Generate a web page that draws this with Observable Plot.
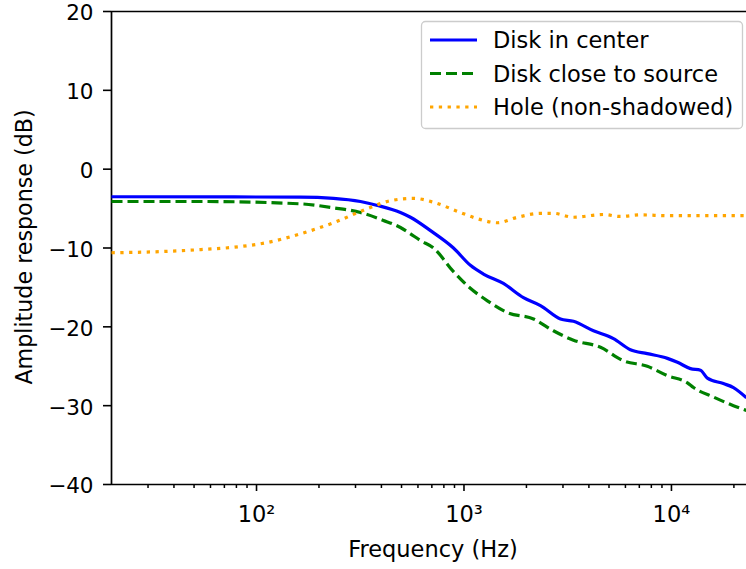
<!DOCTYPE html>
<html><head><meta charset="utf-8">
<script src="https://cdn.jsdelivr.net/npm/d3@7"></script>
<script src="https://cdn.jsdelivr.net/npm/@observablehq/plot@0.6"></script>
<style>body{margin:0;background:#fff}</style>
</head><body><div id="chart"></div>
<script>
const seriesNames = ["Disk in center", "Disk close to source", "Hole (non-shadowed)"];
const seriesColors = ["blue", "green", "orange"];
const seriesDash = [null, "11,5", "3.3,5.5"];

const freqCenter = [20, 163, 235, 317, 383, 494, 552, 690, 890, 1074, 1241, 1549, 1935, 2337, 2918, 3371, 4209, 5253, 6339, 7651, 9563, 10690, 12350, 13800, 14900, 17800, 19900, 23000];
const dbCenter = [-3.5, -3.55, -3.7, -4.1, -4.6, -5.5, -6.1, -7.8, -10.0, -12.2, -13.3, -14.5, -16.3, -17.3, -19.0, -19.3, -20.5, -21.5, -22.9, -23.4, -24.0, -24.5, -25.3, -25.5, -26.5, -27.2, -27.7, -29.0];

const freqSource = [20, 54, 163, 235, 317, 409, 494, 552, 617, 713, 890, 1040, 1297, 1621, 2163, 2698, 3371, 4550, 5870, 7651, 9563, 11940, 12770, 15930, 19900, 22970];
const dbSource = [-4.1, -4.1, -4.4, -4.9, -5.5, -6.5, -7.4, -8.2, -9.05, -10.0, -13.0, -14.8, -16.7, -18.2, -19.0, -20.5, -21.7, -22.6, -24.3, -25.0, -26.2, -27.1, -27.7, -28.9, -30.0, -30.6];

const freqHole = [20, 31, 54, 78, 113, 163, 235, 343, 442, 571, 713, 961, 1203, 1449, 1810, 2337, 2698, 3371, 4700, 5675, 7090, 9563, 23000];
const dbHole = [-10.6, -10.5, -10.2, -9.9, -9.3, -8.2, -6.8, -5.0, -4.0, -3.7, -4.2, -5.5, -6.4, -6.8, -6.1, -5.6, -5.6, -6.1, -5.75, -6.0, -5.8, -5.9, -5.9];

const xMajorTicks = [100, 1000, 10000];
const xMajorLabels = ["10²", "10³", "10⁴"];
const xMinorTicks = [30,40,50,60,70,80,90,200,300,400,500,600,700,800,900,2000,3000,4000,5000,6000,7000,8000,9000,20000];
const yTicks = [-40, -30, -20, -10, 0, 10, 20];
const xLabel = "Frequency (Hz)";
const yLabel = "Amplitude response (dB)";

const allFreq = [freqCenter, freqSource, freqHole];
const allDb = [dbCenter, dbSource, dbHole];
const rows = [];
allFreq.forEach((fs, s) => fs.forEach((f, i) => rows.push({series: seriesNames[s], f, db: allDb[s][i]})));

const FS = 22.5;
const W = 746, H = 569;
const plot = Plot.plot({
  width: W, height: H,
  marginLeft: 111, marginTop: 11, marginBottom: 85, marginRight: 0,
  style: {fontFamily: "DejaVu Sans", fontSize: FS + "px", color: "black", background: "white"},
  x: {type: "log", domain: [20, 23000]},
  y: {domain: [-40, 20]},
  marks: [
    Plot.axisX({ticks: xMinorTicks, tickSize: 4, strokeWidth: 1.5, text: null, label: null}),
    Plot.axisX({ticks: xMajorTicks, tickSize: 7, strokeWidth: 1.6, tickPadding: 15,
      tickFormat: d => xMajorLabels[xMajorTicks.indexOf(d)], label: null}),
    Plot.axisY({ticks: yTicks, tickSize: 8, strokeWidth: 1.6, text: null, label: null}),
    Plot.axisY({ticks: yTicks, tickSize: 0, tickPadding: 18, dy: 2, fontSize: 21.5, label: null}),
    Plot.ruleX([20], {stroke: "black", strokeWidth: 1.7}),
    Plot.ruleY([20, -40], {stroke: "black", strokeWidth: 1.7}),
    ...seriesNames.map((name, s) => Plot.line(rows.filter(r => r.series === name), {
      x: "f", y: "db", stroke: seriesColors[s], strokeWidth: 3.2,
      strokeDasharray: seriesDash[s] || undefined, strokeLinecap: "butt",
      curve: "monotone-x"
    }))
  ]
});

const svg = d3.select(plot);
svg.append("text").attr("x", 433).attr("y", 557).attr("text-anchor", "middle")
  .attr("fill", "black").attr("font-size", FS).text(xLabel);
svg.append("text").attr("transform", "translate(32,247) rotate(-90)").attr("text-anchor", "middle")
  .attr("fill", "black").attr("font-size", 22.2).text(yLabel);

const lg = svg.append("g").attr("text-anchor", "start");
lg.append("rect").attr("x", 421.5).attr("y", 21.5).attr("width", 321).attr("height", 107)
  .attr("rx", 4).attr("fill", "white").attr("fill-opacity", 0.8).attr("stroke", "#cccccc").attr("stroke-width", 1.3);
seriesNames.forEach((name, s) => {
  const yy = 40 + s * 33.5;
  lg.append("line").attr("x1", 430).attr("x2", 477).attr("y1", yy).attr("y2", yy)
    .attr("stroke", seriesColors[s]).attr("stroke-width", 3.2)
    .attr("stroke-dasharray", seriesDash[s]);
  lg.append("text").attr("x", 493).attr("y", yy).attr("dy", "0.36em").attr("text-anchor", "start")
    .attr("fill", "black").attr("font-size", FS).text(name);
});

document.getElementById("chart").appendChild(plot);
</script>
</body></html>
